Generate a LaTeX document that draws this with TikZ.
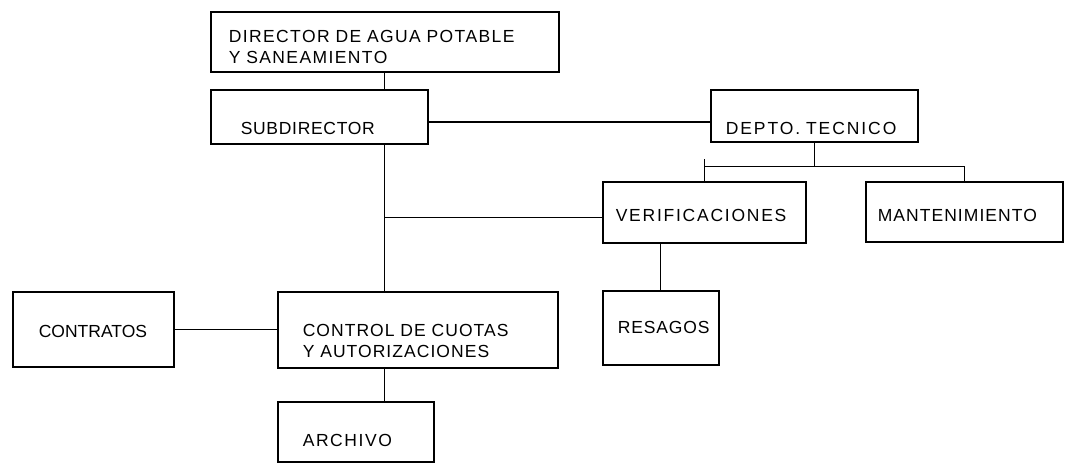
\documentclass[tikz,border=0pt]{standalone}
\usepackage{fontspec}
\setmainfont{Liberation Sans}
\usetikzlibrary{calc}

\tikzset{
  orgbox/.style={draw, line width=1.6pt, anchor=base west, inner ysep=0pt, align=left},
  lsp/.style={font=\fontsize{17.5}{21}\selectfont\addfontfeatures{LetterSpace=#1}},
  link/.style={line width=1.2pt},
}

\begin{document}
\begin{tikzpicture}[x=1pt, y=-1pt]
    \useasboundingbox (0,0) rectangle (1065,464);

    % Boxes (placed at left edge, baseline of first line)
    \node[orgbox, lsp=8, inner xsep=18pt, text width=312pt, text height=30pt, text depth=30pt] (dir) at (210,42) {DIRECTOR DE AGUA POTABLE\\Y SANEAMIENTO};
    \node[orgbox, lsp=4, inner xsep=30pt, text width=157pt, text height=44pt, text depth=10pt] (sub) at (210,134) {SUBDIRECTOR};
    \node[orgbox, lsp=11, inner xsep=15pt, text width=177pt, text height=44pt, text depth=8pt] (depto) at (710,134) {DEPTO.~TECNICO};
    \node[orgbox, lsp=10, inner xsep=13pt, text width=177pt, text height=39pt, text depth=22pt] (verif) at (602,221) {VERIFICACIONES};
    \node[orgbox, lsp=6, inner xsep=12pt, text width=173pt, text height=39pt, text depth=21pt] (mant) at (865,221) {MANTENIMIENTO};
    \node[orgbox, lsp=0, inner xsep=26pt, text width=109pt, text height=45pt, text depth=30pt] (contr) at (12,337) {CONTRATOS};
    \node[orgbox, lsp=6, inner xsep=25pt, text width=230pt, text height=44pt, text depth=32pt] (ctrl) at (277,336) {CONTROL DE CUOTAS\\Y AUTORIZACIONES};
    \node[orgbox, lsp=5, inner xsep=15pt, text width=86pt, text height=42pt, text depth=32pt] (res) at (602,333) {RESAGOS};
    \node[orgbox, lsp=9, inner xsep=25pt, text width=106pt, text height=44pt, text depth=16pt] (arch) at (277,446) {ARCHIVO};

    % Main line
    \draw[link] (dir.south) -- (dir.south |- sub.north);
    \draw[link] (dir.south |- sub.south) -- (dir.south |- ctrl.north);
    \draw[link] (dir.south |- ctrl.south) -- (dir.south |- arch.north);
    \draw[link] ([yshift=-5pt]sub.east) -- ([yshift=-5pt]sub.east -| depto.west);
    \draw[link] ([yshift=-5pt]verif.west) -- ([yshift=-5pt]verif.west -| dir.south);
    \draw[link] (contr.east) -- (contr.east -| ctrl.west);

    % Technical department
    \coordinate (bus) at ($(depto.south)+(0,24)$);
    \draw[link] (depto.south) -- (bus);
    \draw[link] (verif.north) -- (verif.north |- bus) -- (mant.north |- bus) -- (mant.north);
    \draw[link] (verif.north |- bus) -- ++(0,-8);
    \draw[link] (res.north |- verif.south) -- (res.north);
\end{tikzpicture}
\end{document}
